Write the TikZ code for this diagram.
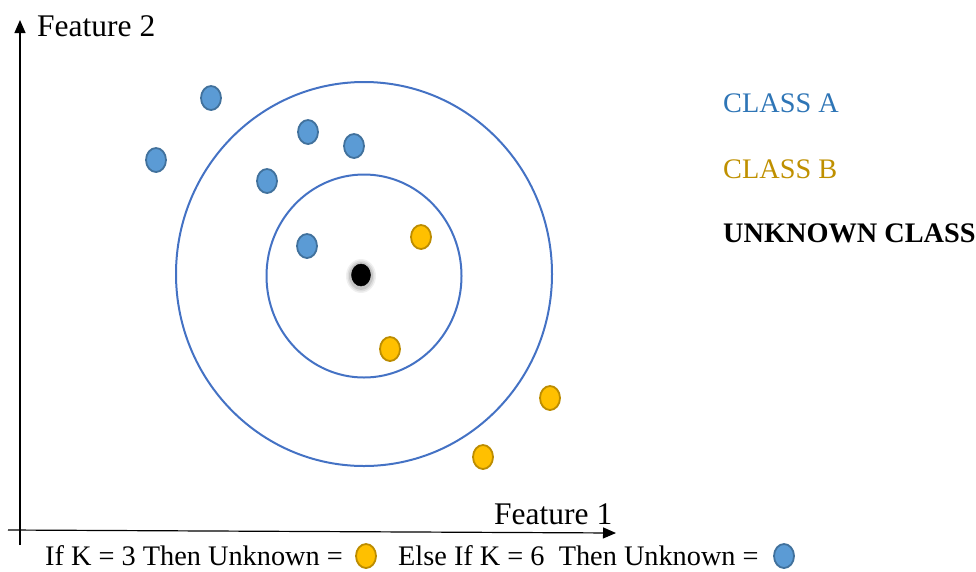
\documentclass[tikz,border=0pt]{standalone}
\usepackage{fontspec}
\setmainfont{Liberation Serif}
\usetikzlibrary{arrows.meta,shapes.geometric}
\definecolor{ablue}{HTML}{5B9BD5}
\definecolor{abluedk}{HTML}{41719C}
\definecolor{bgold}{HTML}{FFC000}
\definecolor{bgolddk}{HTML}{BC8C00}
\definecolor{ringblue}{HTML}{4472C4}
\definecolor{txtblue}{HTML}{2E75B6}
\definecolor{txtgold}{HTML}{BF9000}
\tikzset{
  pt/.style={ellipse, minimum width=20pt, minimum height=24pt, inner sep=0pt, line width=1.8pt},
  ptA/.style={pt, fill=ablue, draw=abluedk},
  ptB/.style={pt, fill=bgold, draw=bgolddk},
  ptU/.style={pt, fill=black, draw=black, line width=0.5pt, minimum width=19pt, minimum height=22pt},
  ring/.style={draw=ringblue, line width=2pt, ellipse, inner sep=0pt},
  axis/.style={line width=1.2pt, -{Triangle[length=13pt,width=11pt]}},
  lbl/.style={inner sep=0pt, anchor=base west},
  axlbl/.style={lbl, font=\fontsize{31.5}{36}\selectfont},
  leg/.style={lbl, font=\fontsize{28.3}{33}\selectfont},
}
\begin{document}
\begin{tikzpicture}[x=1pt,y=-1pt]
\useasboundingbox (0,0) rectangle (976,571);
% axes
\coordinate (yb) at (20,545);
\coordinate (yt) at (20,20);
\coordinate (xl) at (8,530);
\coordinate (xr) at (616,533);
\draw[axis] (yb) -- (yt);
\draw[axis] (xl) -- (xr);
\node[axlbl] (f2) at (37,36) {Feature 2};
\node[axlbl] (f1) at (494,524) {Feature 1};
% neighbourhood rings
\node[ring, minimum width=376pt, minimum height=384pt] (outer) at (364,274) {};
\node[ring, minimum width=195pt, minimum height=203pt] (inner) at (364,276) {};
% class A samples
\node[ptA] (a1) at (211,98) {};
\node[ptA] (a2) at (156,160) {};
\node[ptA] (a3) at (308,132) {};
\node[ptA] (a4) at (354,146) {};
\node[ptA] (a5) at (267,181) {};
\node[ptA] (a6) at (307,246) {};
% class B samples
\node[ptB] (b1) at (421,237) {};
\node[ptB] (b2) at (390,349) {};
\node[ptB] (b3) at (550,398) {};
\node[ptB] (b4) at (483,457) {};
% query point with a soft halo
\foreach \s/\o in {30/0.06,27/0.08,24/0.10}
  \fill[black, opacity=\o] (361,276) ellipse ({\s/2} and {\s/2+2});
\node[ptU] (q) at (361,275) {};
% legend
\node[leg, text=txtblue] (la) at (723,112) {CLASS A};
\node[leg, text=txtgold] (lb) at (723,178) {CLASS B};
\node[leg, font=\fontsize{28.3}{33}\selectfont\bfseries] (lu) at (723,242) {UNKNOWN CLASS};
% rule line
\node[leg] (r1) at (45,565) {If K = 3 Then Unknown =};
\node[ptB] (rb) at (366,556) {};
\node[leg] (r2) at (398,565) {Else If K = 6\enspace Then Unknown =};
\node[ptA] (ra) at (784,556) {};
\end{tikzpicture}
\end{document}
